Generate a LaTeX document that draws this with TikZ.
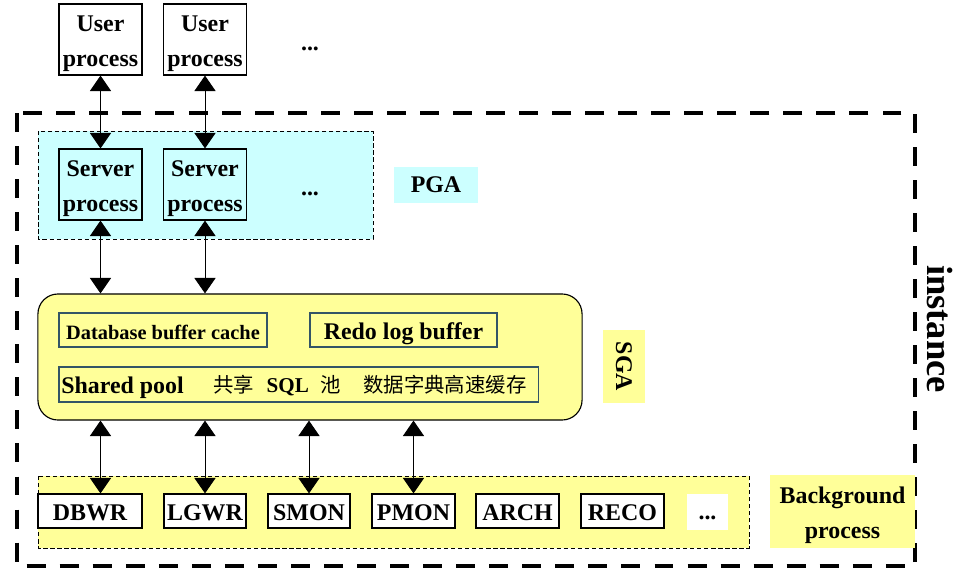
\documentclass[tikz,border=0pt]{standalone}
\usepackage{fontspec}
\setmainfont{Liberation Serif}
\newfontfamily\cjk{Noto Sans CJK SC}
\usetikzlibrary{arrows.meta}

\definecolor{pgacyan}{RGB}{204,255,255}
\definecolor{sgayellow}{RGB}{255,255,153}
\definecolor{slateline}{RGB}{51,85,102}

\newcommand{\lowstrut}{\rule{0pt}{17pt}}

\begin{document}
\begin{tikzpicture}[x=0.025cm,y=-0.025cm,
  every node/.style={font=\bfseries\fontsize{17}{25}\selectfont},
  procbox/.style={draw,line width=0.8pt,inner sep=0pt,align=center,minimum width=2.075cm,minimum height=1.775cm},
  bgbox/.style={draw,line width=0.8pt,fill=white,inner sep=0pt,minimum height=0.85cm,text height=18.7pt,text depth=5.5pt},
  membox/.style={draw=slateline,line width=0.8pt,inner sep=0pt,minimum height=0.85cm,text height=19.2pt,text depth=5pt},
  tagbox/.style={inner sep=0pt,align=center},
  area/.style={draw,line width=0.6pt,dash pattern=on 3pt off 2pt},
  link/.style={{Triangle[width=15pt,length=11pt]}-{Triangle[width=15pt,length=11pt]},line width=0.7pt}]
  \useasboundingbox (0,0) rectangle (961,580);

  \draw[line width=3.5pt,dash pattern=on 13.5pt off 10pt] (17,113) rectangle (915,566);
  \node[rotate=-90,font=\bfseries\fontsize{26}{30}\selectfont] (inst) at (940,329) {instance};

  \node[procbox,fill=white] (user1) at (100.5,39.5) {\lowstrut User\\process};
  \node[procbox,fill=white] (user2) at (205,39.5) {\lowstrut User\\process};
  \node (udots) at (310,49) {...};

  \draw[area,fill=pgacyan] (38,131) rectangle (373,239);
  \node[procbox,fill=pgacyan] (srv1) at (100.5,184.5) {\lowstrut Server\\process};
  \node[procbox,fill=pgacyan] (srv2) at (205,184.5) {\lowstrut Server\\process};
  \node (sdots) at (310,194) {...};
  \node[tagbox,fill=pgacyan,minimum width=2.1cm,minimum height=0.9cm] (pga) at (436,185) {PGA};

  \node[draw,line width=0.8pt,fill=sgayellow,rounded corners=0.5cm,minimum width=13.6cm,minimum height=3.15cm] (sga) at (310,357) {};
  \node[membox,minimum width=5.2cm,font=\bfseries\fontsize{14.5}{17}\selectfont] (dbcache) at (163,330) {Database buffer cache};
  \node[membox,minimum width=4.675cm] (redo) at (403.5,330) {Redo log buffer};
  \node[membox,minimum width=11.975cm,minimum height=0.875cm] (shpool) at (298.5,384.5) {};
  \node[anchor=base west,inner sep=0pt] (shname) at (61,393) {Shared pool};
  \node[anchor=base west,inner sep=0pt,font=\fontsize{14.5}{16}\selectfont] (shsql) at (213,392) {\cjk 共享\hspace{9pt}\rmfamily\bfseries\fontsize{15}{17}\selectfont SQL\hspace{8pt}\cjk\mdseries\fontsize{14.5}{16}\selectfont 池};
  \node[anchor=base west,inner sep=0pt,font=\fontsize{14.5}{16}\selectfont] (shdict) at (363,392) {\cjk 数据字典高速缓存};
  \node[tagbox,fill=sgayellow,rotate=-90,minimum width=1.825cm,minimum height=1.05cm] (sgatag) at (624,366.5) {SGA};

  \draw[area,fill=sgayellow] (38,476) rectangle (749,548);
  \node[bgbox,minimum width=2.6cm] (dbwr) at (90,511) {DBWR};
  \node[bgbox,minimum width=2.05cm] (lgwr) at (205,511) {LGWR};
  \node[bgbox,minimum width=2.05cm] (smon) at (309,511) {SMON};
  \node[bgbox,minimum width=2.075cm] (pmon) at (413.5,511) {PMON};
  \node[bgbox,minimum width=2.075cm] (arch) at (517.5,511) {ARCH};
  \node[bgbox,minimum width=2.075cm] (reco) at (622.5,511) {RECO};
  \node[tagbox,fill=white,minimum width=1.025cm,minimum height=0.9cm,text height=17.8pt,text depth=7.8pt] (bdots) at (707.5,512) {...};
  \node[tagbox,fill=sgayellow,minimum width=3.625cm,minimum height=1.825cm] (bgtag) at (842.5,511.5) {\lowstrut Background\\process};

  \draw[link] (user1) -- (srv1);
  \draw[link] (user2) -- (srv2);
  \draw[link] (srv1) -- (srv1 |- sga.north);
  \draw[link] (srv2) -- (srv2 |- sga.north);
  \draw[link] (sga.south -| srv1) -- (dbwr.north -| srv1);
  \draw[link] (sga.south -| lgwr) -- (lgwr);
  \draw[link] (sga.south -| smon) -- (smon);
  \draw[link] (sga.south -| pmon) -- (pmon);
\end{tikzpicture}
\end{document}
